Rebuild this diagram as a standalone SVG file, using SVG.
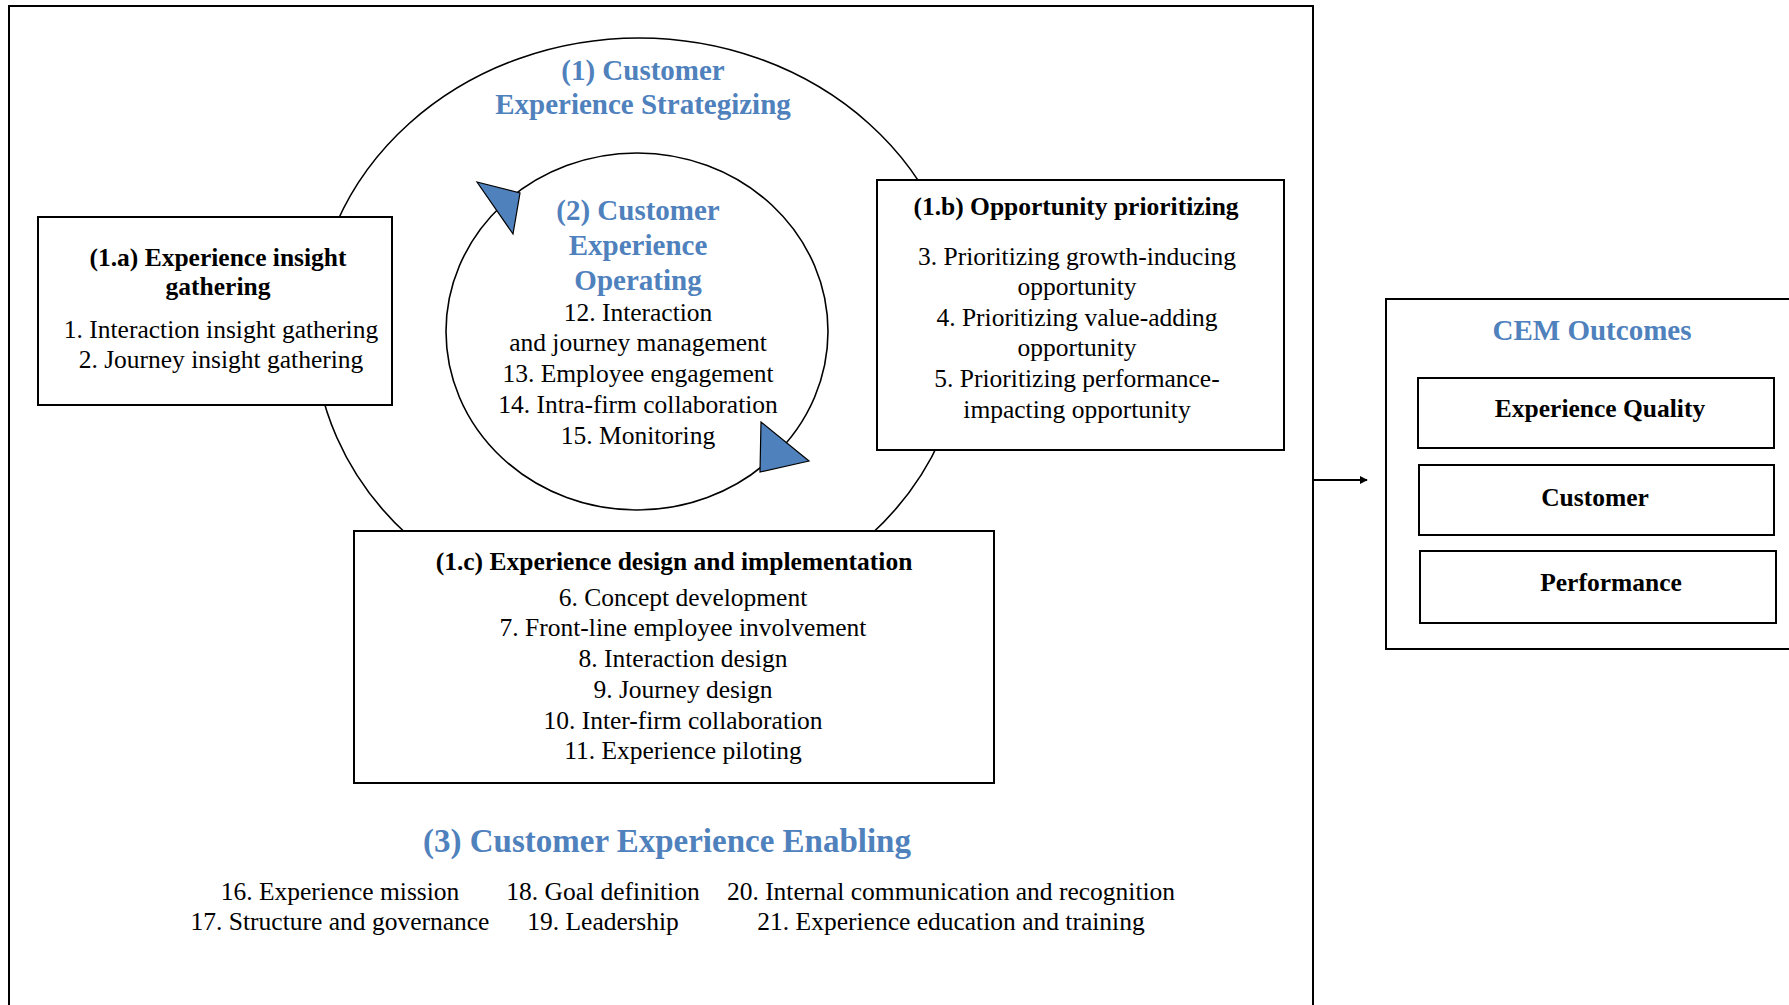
<svg xmlns="http://www.w3.org/2000/svg" width="1789" height="1005" viewBox="0 0 1789 1005">
  <style>
    text { font-family: "Liberation Serif", "Times New Roman", serif; fill: #000; text-anchor: middle; }
    .body { font-size: 25.5px; }
    .bold { font-size: 25.5px; font-weight: bold; }
    .blue { font-size: 29px; font-weight: bold; fill: #4F81BD; }
    .blue-lg { font-size: 33px; font-weight: bold; fill: #4F81BD; }
    .box { fill: #fff; stroke: #000; stroke-width: 2; }
    .ring { fill: none; stroke: #000; stroke-width: 1.6; }
    .turn { fill: #4F81BD; stroke: #000; stroke-width: 1.2; stroke-linejoin: miter; }
  </style>
  <defs>
    <marker id="arrow" viewBox="0 0 10 10" refX="9" refY="5" markerWidth="8" markerHeight="8" markerUnits="userSpaceOnUse" orient="auto">
      <path d="M0,0 L10,5 L0,10 z" fill="#000"/>
    </marker>
  </defs>

  <rect width="1789" height="1005" fill="#fff"/>

  <!-- framework frame (open at the bottom) -->
  <path d="M9,1006 V6 H1313 V1006" fill="none" stroke="#000" stroke-width="2"/>

  <!-- (1) strategizing cycle -->
  <g id="strategizing">
    <ellipse class="ring" cx="639" cy="330" rx="325" ry="292"/>
    <text class="blue" x="643" y="80">(1)  Customer</text>
    <text class="blue" x="643" y="114">Experience Strategizing</text>
  </g>

  <!-- (2) operating cycle -->
  <g id="operating">
    <ellipse class="ring" cx="637" cy="331.5" rx="191" ry="178.5"/>
    <polygon class="turn" points="477,182 520,193 513,234"/>
    <polygon class="turn" points="761,422 809,461 760,472"/>
    <text class="blue" x="638" y="220">(2) Customer</text>
    <text class="blue" x="638" y="255">Experience</text>
    <text class="blue" x="638" y="290">Operating</text>
    <text class="body" x="638" y="321">12. Interaction</text>
    <text class="body" x="638" y="351">and journey management</text>
    <text class="body" x="638" y="382">13. Employee engagement</text>
    <text class="body" x="638" y="413">14. Intra-firm collaboration</text>
    <text class="body" x="638" y="444">15. Monitoring</text>
  </g>

  <!-- (1.a) -->
  <g id="insight-gathering">
    <rect class="box" x="38" y="217" width="354" height="188"/>
    <text class="bold" x="218" y="266">(1.a) Experience insight</text>
    <text class="bold" x="218" y="295">gathering</text>
    <text class="body" x="221" y="338">1. Interaction insight gathering</text>
    <text class="body" x="221" y="368">2. Journey insight gathering</text>
  </g>

  <!-- (1.b) -->
  <g id="opportunity-prioritizing">
    <rect class="box" x="877" y="180" width="407" height="270"/>
    <text class="bold" x="1076" y="215">(1.b) Opportunity prioritizing</text>
    <text class="body" x="1077" y="265">3. Prioritizing growth-inducing</text>
    <text class="body" x="1077" y="295">opportunity</text>
    <text class="body" x="1077" y="326">4. Prioritizing value-adding</text>
    <text class="body" x="1077" y="356">opportunity</text>
    <text class="body" x="1077" y="387">5. Prioritizing performance-</text>
    <text class="body" x="1077" y="418">impacting opportunity</text>
  </g>

  <!-- (1.c) -->
  <g id="design-implementation">
    <rect class="box" x="354" y="531" width="640" height="252"/>
    <text class="bold" x="674" y="570">(1.c) Experience design and implementation</text>
    <text class="body" x="683" y="606">6. Concept development</text>
    <text class="body" x="683" y="636">7. Front-line employee involvement</text>
    <text class="body" x="683" y="667">8. Interaction design</text>
    <text class="body" x="683" y="698">9. Journey design</text>
    <text class="body" x="683" y="729">10. Inter-firm collaboration</text>
    <text class="body" x="683" y="759">11. Experience piloting</text>
  </g>

  <!-- (3) enabling -->
  <g id="enabling">
    <text class="blue-lg" x="667" y="852">(3) Customer Experience Enabling</text>
    <text class="body" x="340" y="900">16. Experience mission</text>
    <text class="body" x="340" y="930">17. Structure and governance</text>
    <text class="body" x="603" y="900">18. Goal definition</text>
    <text class="body" x="603" y="930">19. Leadership</text>
    <text class="body" x="951" y="900">20. Internal communication and recognition</text>
    <text class="body" x="951" y="930">21. Experience education and training</text>
  </g>

  <!-- outcomes -->
  <g id="cem-outcomes">
    <rect class="box" x="1386" y="299" width="410" height="350"/>
    <text class="blue" x="1592" y="340">CEM Outcomes</text>
  </g>
  <g id="experience-quality">
    <rect class="box" x="1418" y="378" width="356" height="70"/>
    <text class="bold" x="1600" y="417">Experience Quality</text>
  </g>
  <g id="customer">
    <rect class="box" x="1419" y="465" width="355" height="70"/>
    <text class="bold" x="1595" y="506">Customer</text>
  </g>
  <g id="performance">
    <rect class="box" x="1420" y="551" width="356" height="72"/>
    <text class="bold" x="1611" y="591">Performance</text>
  </g>

  <!-- connectors -->
  <g id="connectors">
    <line x1="1313" y1="480" x2="1367" y2="480" stroke="#000" stroke-width="2" marker-end="url(#arrow)"/>
  </g>
</svg>
